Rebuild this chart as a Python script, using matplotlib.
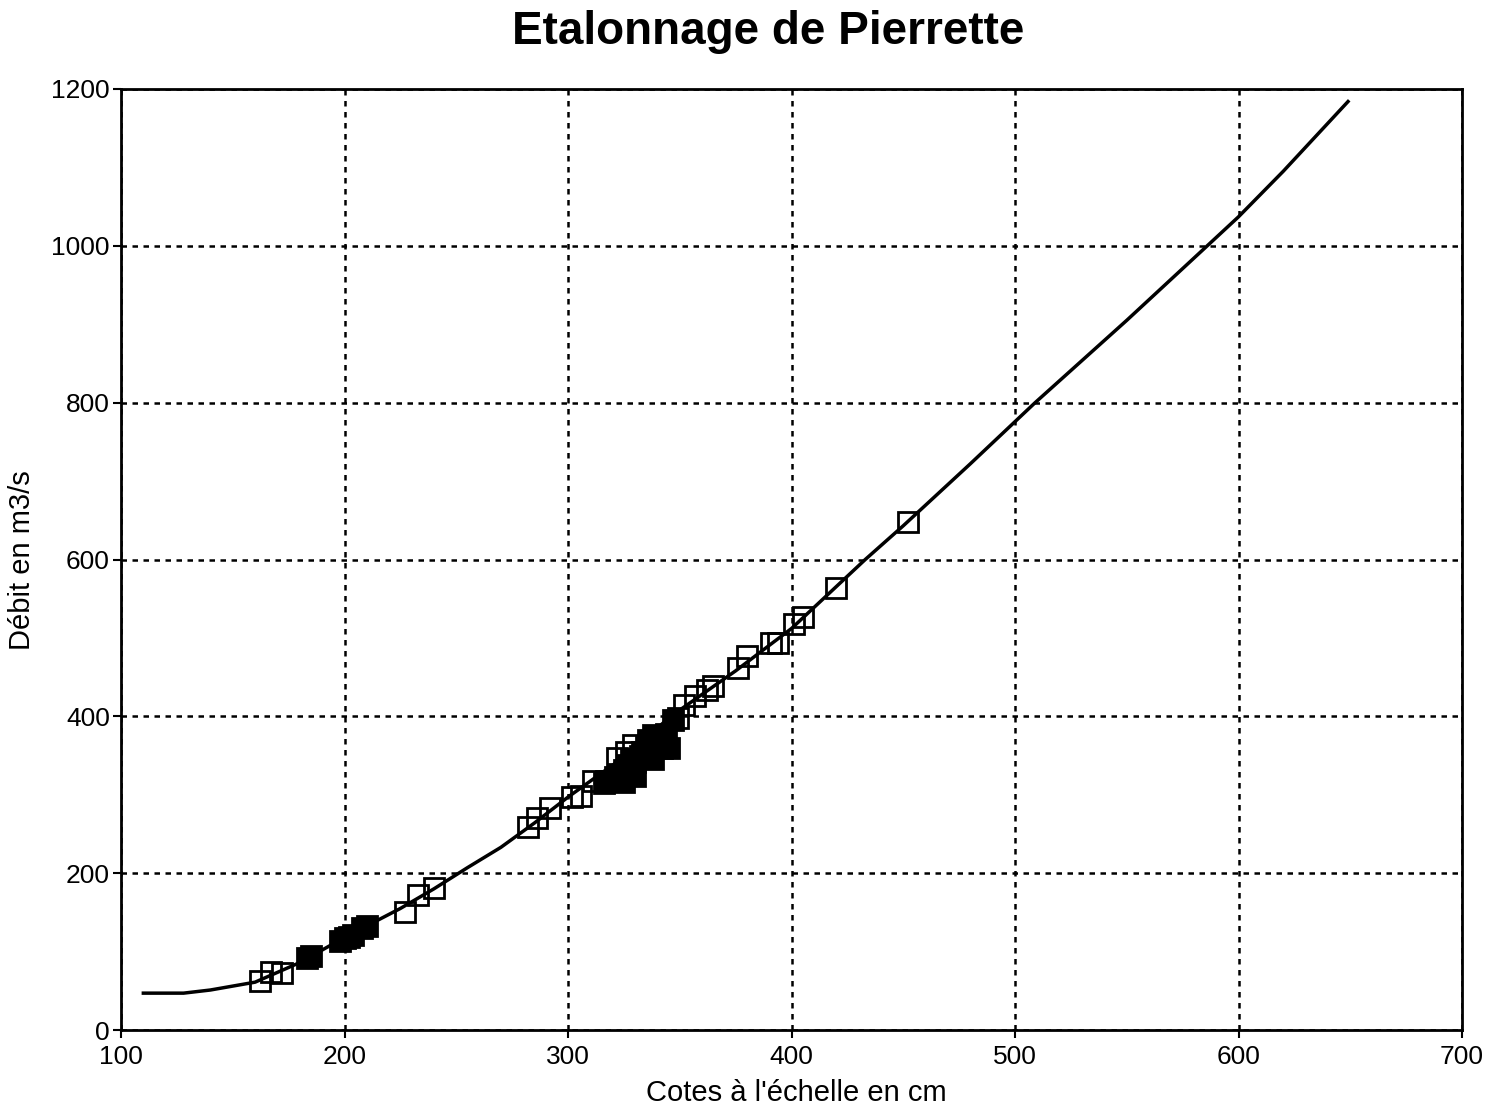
import matplotlib
matplotlib.use("Agg")
import matplotlib.pyplot as plt

plt.rcParams['font.family'] = ['Liberation Sans', 'DejaVu Sans']

# Rating curve (stage in cm -> discharge m3/s)
curve_x = [110, 128, 140, 160, 180, 200, 225, 240, 255, 270, 285, 300, 325, 346, 375, 400, 433, 450, 480, 509, 550, 586, 600, 620, 649]
curve_y = [47, 47, 51, 61, 86, 118, 155, 180, 207, 233, 264, 297, 348, 400, 458, 512, 600, 643, 722, 800, 905, 1000, 1037, 1095, 1184]

# Gaugings (open squares)
open_x = [162, 167, 172, 227, 233, 240, 282, 286, 292, 302, 306, 311, 317, 322, 326, 329, 339, 349, 352, 357, 362, 365, 376, 380, 391, 394, 401, 405, 420, 452]
open_y = [62, 74, 73, 150, 172, 181, 259, 270, 283, 297, 298, 318, 318, 347, 355, 364, 362, 398, 415, 426, 434, 439, 462, 477, 494, 494, 518, 527, 564, 648]

# Gaugings (filled squares)
filled_x = [183, 185, 198, 200, 202, 204, 208, 210, 316, 319, 321, 323, 325, 325, 327, 328, 330, 330, 332, 333, 335, 336, 338, 338, 340, 342, 344, 345, 347]
filled_y = [92, 95, 114, 117, 118, 121, 130, 132, 315, 318, 322, 326, 316, 332, 338, 345, 342, 324, 350, 355, 362, 370, 376, 345, 366, 360, 378, 360, 395]

xticks = [100, 200, 300, 400, 500, 600, 700]
yticks = [0, 200, 400, 600, 800, 1000, 1200]

fig = plt.figure(figsize=(14.96, 11.15), dpi=100)
ax = fig.add_axes([121/1496, 1 - 1030/1115, (1462-121)/1496, (1030-89)/1115])

ax.plot(curve_x, curve_y, color='black', lw=2.5, zorder=3)
ax.plot(filled_x, filled_y, 's', ms=14, mfc='black', mec='black', mew=2, zorder=4)
ax.plot(open_x, open_y, 's', ms=14, mfc='none', mec='black', mew=2, zorder=5)

ax.set_xlim(100, 700)
ax.set_ylim(0, 1200)
ax.set_xticks(xticks)
ax.set_yticks(yticks)
ax.tick_params(direction='out', length=6, width=1.5, labelsize=19, pad=2)
ax.tick_params(axis='x', pad=5)
for s in ax.spines.values():
    s.set_linewidth(2)
ax.grid(True, color='black', linestyle=(0, (2.2, 2.2)), lw=1.8)
ax.set_axisbelow(True)

ax.set_xlabel("Cotes à l'échelle en cm", fontsize=21)
ax.set_ylabel("Débit en m3/s", fontsize=21)
ax.xaxis.set_label_coords((796-121)/1341, -(1093-1030)/941)
ax.yaxis.set_label_coords((22-121)/1341, (1030-560)/941)
ax.xaxis.label.set_va('center')
ax.yaxis.label.set_va('center')
fig.text(768/1496, 1 - 32/1115, "Etalonnage de Pierrette", fontsize=33,
         fontweight='bold', ha='center', va='center')

fig.savefig("out.png", dpi=100)
